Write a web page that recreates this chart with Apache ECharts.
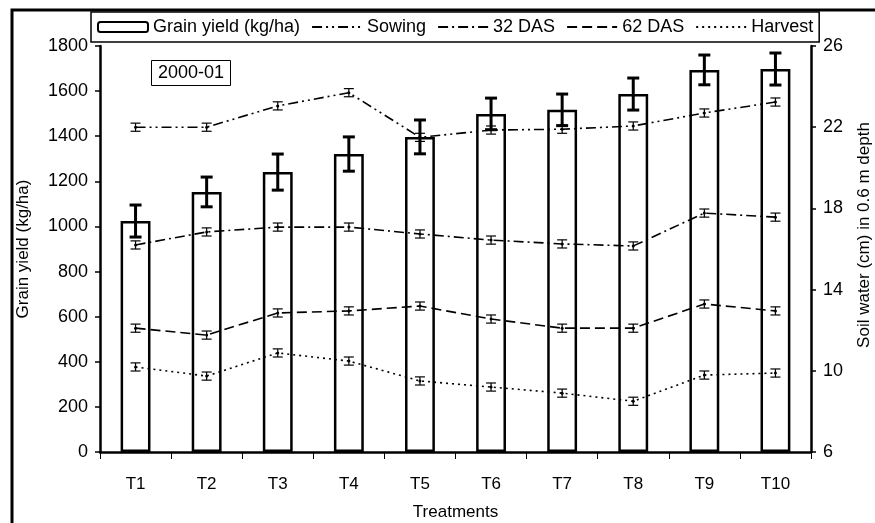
<!DOCTYPE html>
<html><head><meta charset="utf-8">
<script src="https://cdn.jsdelivr.net/npm/echarts@6/dist/echarts.min.js"></script>
<style>html,body{margin:0;padding:0;background:#fff}#c{width:875px;height:523px}</style>
</head><body><div id="c"></div>
<script>
const categories = ['T1','T2','T3','T4','T5','T6','T7','T8','T9','T10'];
const grainYield = [1024,1153,1241,1321,1397,1499,1517,1587,1694,1698];
const grainErr   = [71,66,80,76,75,70,70,71,66,71];
const sowing  = [22.0,22.0,23.05,23.7,21.5,21.86,21.9,22.06,22.7,23.24];
const das32   = [16.2,16.84,17.08,17.08,16.74,16.44,16.25,16.15,17.77,17.57];
const das62   = [12.1,11.76,12.85,12.95,13.19,12.55,12.1,12.1,13.29,12.95];
const harvest = [10.19,9.74,10.88,10.48,9.5,9.2,8.9,8.5,9.79,9.89];
const waterErr = [0.2,0.2,0.2,0.2,0.2,0.2,0.2,0.2,0.2,0.2];
const leftTicks = {min:0, max:1800, interval:200};
const rightTicks = {min:6, max:26, interval:4};

const FONT = 'Liberation Sans, Arial, sans-serif';
function errData(vals, errs){ return vals.map((v,i)=>[i, v-errs[i], v+errs[i]]); }
function errItem(capHalf, lw){
  return function(params, api){
    const x = api.value(0), lo = api.value(1), hi = api.value(2);
    const p1 = api.coord([x, lo]), p2 = api.coord([x, hi]);
    const st = {stroke:'#000', lineWidth:lw};
    return {type:'group', children:[
      {type:'line', shape:{x1:p1[0],y1:p1[1],x2:p2[0],y2:p2[1]}, style:st},
      {type:'line', shape:{x1:p1[0]-capHalf,y1:p1[1],x2:p1[0]+capHalf,y2:p1[1]}, style:st},
      {type:'line', shape:{x1:p2[0]-capHalf,y1:p2[1],x2:p2[0]+capHalf,y2:p2[1]}, style:st}
    ]};
  };
}
function lineSeries(name, data, dash){
  return {name, type:'line', yAxisIndex:1, data, z:4,
    symbol:'circle', symbolSize:3, showSymbol:true,
    itemStyle:{color:'#000'},
    lineStyle:{color:'#000', width:1.6, type:dash}};
}
function errSeries(vals, errs, yAxisIndex, capHalf, lw){
  return {type:'custom', yAxisIndex, data:errData(vals, errs), z:5,
    renderItem: errItem(capHalf, lw), encode:{x:0, y:[1,2]}, silent:true};
}
const hide = {color:'rgba(0,0,0,0)', borderWidth:0};

const chart = echarts.init(document.getElementById('c'));
chart.setOption({
  animation:false,
  textStyle:{fontFamily:FONT, color:'#000'},
  graphic:[{type:'rect', shape:{x:12,y:10,width:900,height:600},
    style:{fill:'none', stroke:'#000', lineWidth:3}, z:0}],
  title:{text:'2000-01', left:151, top:60, padding:[4,7],
    borderColor:'#000', borderWidth:1,
    textStyle:{fontFamily:FONT, fontSize:18, fontWeight:'normal', color:'#000'}},
  legend:{left:91, top:12, padding:[6,6], itemGap:11, itemWidth:50, itemHeight:10,
    borderColor:'#000', borderWidth:1.5, backgroundColor:'#fff',
    textStyle:{fontFamily:FONT, fontSize:18, color:'#000'},
    data:['Grain yield (kg/ha)',
      {name:'Sowing', itemStyle:hide},
      {name:'32 DAS', itemStyle:hide},
      {name:'62 DAS', itemStyle:hide},
      {name:'Harvest', itemStyle:hide}]},
  grid:{left:100, right:64, top:46, bottom:71, outerBoundsMode:'none', containLabel:false},
  xAxis:{type:'category', data:categories, boundaryGap:true,
    name:'Treatments', nameLocation:'middle', nameGap:52,
    nameTextStyle:{fontFamily:FONT, fontSize:17, color:'#000'},
    axisLine:{lineStyle:{color:'#000', width:2.5}},
    axisTick:{show:true, length:7, interval:0, lineStyle:{color:'#000', width:1}},
    axisLabel:{fontFamily:FONT, fontSize:17, color:'#000', margin:24},
    splitLine:{show:false}},
  yAxis:[
    {type:'value', min:leftTicks.min, max:leftTicks.max, interval:leftTicks.interval,
     name:'Grain yield (kg/ha)', nameLocation:'middle', nameGap:68, nameRotate:90,
     nameTextStyle:{fontFamily:FONT, fontSize:17, color:'#000'},
     axisLine:{show:true, lineStyle:{color:'#000', width:2.5}},
     axisTick:{show:true, length:5, lineStyle:{color:'#000', width:1.5}},
     axisLabel:{fontFamily:FONT, fontSize:18, color:'#000', margin:12, formatter:v=>String(v)},
     splitLine:{show:false}},
    {type:'value', min:rightTicks.min, max:rightTicks.max, interval:rightTicks.interval,
     position:'right',
     name:'Soil water (cm) in 0.6 m depth', nameLocation:'middle', nameGap:45, nameRotate:90,
     nameTextStyle:{fontFamily:FONT, fontSize:17, color:'#000', padding:[0,0,0,28]},
     axisLine:{show:true, lineStyle:{color:'#000', width:2.5}},
     axisTick:{show:true, length:5, lineStyle:{color:'#000', width:1.5}},
     axisLabel:{fontFamily:FONT, fontSize:18, color:'#000', margin:12, formatter:v=>String(v)},
     splitLine:{show:false}}
  ],
  series:[
    {name:'Grain yield (kg/ha)', type:'bar', data:grainYield, barWidth:'42%', z:2,
     itemStyle:{color:'#fff', borderColor:'#000', borderWidth:2.5}},
    errSeries(grainYield, grainErr, 0, 6, 3),
    lineSeries('Sowing', sowing, [10,4,2,4,2,4]),
    lineSeries('32 DAS', das32, [10,4,2,4]),
    lineSeries('62 DAS', das62, [10,5]),
    lineSeries('Harvest', harvest, [2,4]),
    errSeries(sowing, waterErr, 1, 5, 1.2),
    errSeries(das32, waterErr, 1, 5, 1.2),
    errSeries(das62, waterErr, 1, 5, 1.2),
    errSeries(harvest, waterErr, 1, 5, 1.2)
  ]
});
</script></body></html>
